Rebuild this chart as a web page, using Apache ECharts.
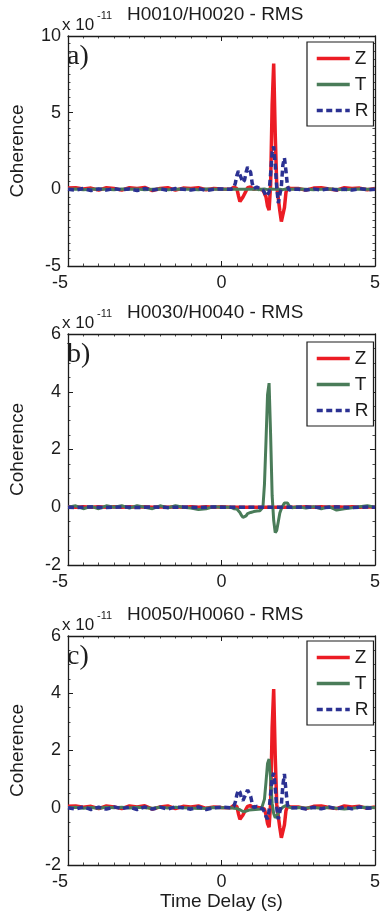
<!DOCTYPE html>
<html><head><meta charset="utf-8">
<script src="https://cdn.jsdelivr.net/npm/echarts@6/dist/echarts.min.js"></script>
<style>html,body{margin:0;padding:0;background:#fff}#c{width:383px;height:916px}</style>
</head><body><div id="c"></div>
<script>
// Time delay (s)
const time = [-5,-4.75,-4.5,-4.25,-4,-3.75,-3.5,-3.25,-3,-2.75,-2.5,-2.25,-2,-1.75,-1.5,-1.25,-1,-0.75,-0.5,-0.25,0,
 0.3,0.35,0.4,0.45,0.5,0.55,0.6,0.65,0.7,0.75,0.8,0.85,0.9,0.95,1,1.05,1.1,1.15,1.2,1.25,1.3,1.35,1.4,1.45,1.5,1.55,1.6,1.65,1.7,1.75,1.8,1.85,1.9,1.95,2,2.05,2.1,2.15,2.2,2.25,2.3,
 2.5,2.75,3,3.25,3.5,3.75,4,4.25,4.5,4.75,5];
// Coherence (x 1e-11)
const aZ = [0.08,0.1,0.02,0.08,-0.05,0.1,0.05,-0.05,0.1,0.05,0.12,-0.08,0.05,0.1,-0.05,0.08,0.05,0.1,-0.03,0.05,0.02,
 0,0.05,0.15,0.2,0.05,-0.4,-0.8,-0.75,-0.5,-0.3,-0.1,0.1,0.2,0.15,0.02,0,0.05,0.05,0.02,0,0,-0.05,-0.1,-0.5,-1.1,-1.35,0.3,5.5,8.2,3.6,0.2,-0.6,-1.4,-2.1,-2.1,-1.2,-0.2,0.1,0.02,0.05,0,
 0.05,-0.05,0.08,0.1,0.02,-0.05,0.1,0.05,0.08,-0.03,0.05];
const aT = [0,0.02,-0.02,0,0.02,0,-0.02,0.02,0,0.02,-0.02,0,0.02,-0.02,0,0.02,0,-0.02,0.02,0,0,
 0,0.02,0,-0.02,0,0.02,0,-0.02,0,0.02,0,-0.02,0,0.02,0,0,0.02,0,-0.02,0,0,0,0.02,0,-0.02,0,0.02,0,0,-0.02,0,0.02,0,0,-0.02,0,0.02,0,0,0.02,0,
 0.02,0,-0.02,0,0.02,0,-0.02,0,0.02,0,0];
const aR = [0,-0.05,0.05,-0.08,0.03,-0.05,0.05,-0.03,0.02,-0.08,0.05,-0.05,0.03,-0.06,0.05,0,-0.05,0.05,-0.08,0,0.03,
 0,0,0.1,0.4,0.9,1.2,1.1,0.7,0.45,0.6,1.1,1.45,1.5,1.1,0.4,0.05,0.1,0.15,0.15,0.05,0,-0.05,-0.2,-0.45,-0.5,-0.2,1.0,2.4,2.8,1.6,0.1,-0.9,-0.9,0.2,1.6,2.05,1.2,0.2,-0.05,0,0,
 0,-0.05,0.03,-0.05,0.05,-0.05,0.02,-0.05,0.05,-0.03,0];
const bZ = [0.02,0,0.02,0,0.02,0,0.02,0,0.02,0,0.02,0,0.02,0,0.02,0,0.02,0,0.02,0,0.02,
 0,0.02,0,0.02,0,0.02,0,0.02,0,0.02,0,0.02,0,0.02,0,0.02,0,0.02,0,0.02,0,0.02,0,0.02,0,0.02,0,0.02,0,0.02,0,0.02,0,0.02,0,0.02,0,0.02,0,0.02,0,
 0,0.02,0,0.02,0,0.02,0,0.02,0,0.02,0];
const bT = [0,0.05,-0.05,0.03,-0.05,0.05,0,0.05,-0.03,0.05,0,-0.05,0.05,-0.02,0.05,0,-0.03,-0.08,-0.05,0.02,0,
 0,-0.02,-0.05,-0.05,-0.06,-0.1,-0.18,-0.28,-0.35,-0.37,-0.3,-0.22,-0.2,-0.18,-0.17,-0.15,-0.15,-0.13,-0.13,-0.12,-0.1,0,0.8,2.3,3.9,4.3,2.5,0.4,-0.45,-0.88,-0.8,-0.5,-0.2,-0.05,0.05,0.15,0.2,0.15,0.05,0,-0.02,
 0.02,-0.03,0.02,-0.05,0.02,-0.1,-0.05,-0.02,0.02,0.05,0];
const bR = [0,-0.01,0,0.01,0,-0.01,0,0.01,0,-0.01,0,0.01,0,-0.01,0,0.01,0,-0.01,0,0.01,0,
 0,0.01,0,-0.01,0,0.01,0,-0.01,0,0.01,0,-0.01,0,0.01,0,-0.01,0,0.01,0,-0.01,0,0.01,0,-0.01,0,0.01,0,-0.01,0,0.01,0,-0.01,0,0.01,0,-0.01,0,0.01,0,-0.01,0,
 0,0.01,0,-0.01,0,0.01,0,-0.01,0,0.01,0];
const cZ = [0.05,0.06,0.02,0.05,-0.03,0.06,0.03,-0.03,0.06,0.03,0.07,-0.05,0.03,0.06,-0.03,0.05,0.03,0.06,-0.02,0.03,0.01,
 0,0.03,0.08,0.12,0.05,-0.2,-0.4,-0.38,-0.25,-0.15,-0.05,0.05,0.1,0.08,0.01,0,0.03,0.03,0.01,0,0,-0.03,-0.05,-0.25,-0.55,-0.68,0.15,2.8,4.15,1.8,0.1,-0.3,-0.7,-1.05,-1.05,-0.6,-0.1,0.05,0.01,0.03,0,
 0.03,-0.03,0.05,0.06,0.01,-0.03,0.06,0.03,0.05,-0.02,0.03];
const cT = [0,0.02,-0.02,0.01,-0.02,0.02,0,0.02,-0.01,0.02,0,-0.02,0.02,-0.01,0.02,0,-0.01,-0.03,-0.02,0.01,0,
 0,-0.01,-0.02,-0.02,-0.03,-0.04,-0.07,-0.1,-0.13,-0.14,-0.12,-0.09,-0.08,-0.07,-0.07,-0.06,-0.06,-0.05,-0.05,-0.05,-0.04,0,0.3,0.9,1.55,1.7,1.0,0.15,-0.2,-0.35,-0.32,-0.2,-0.08,-0.02,0.02,0.06,0.08,0.06,0.02,0,-0.01,
 0.01,-0.01,0.01,-0.02,0.01,-0.02,-0.04,-0.02,0.01,0.02,0];
const cR = [0,-0.05,0.03,-0.06,0.02,-0.05,0.03,-0.03,0.02,-0.06,0.03,-0.05,0.02,-0.05,0.03,0,-0.05,0.03,-0.06,0,0.02,
 0,0,0.05,0.2,0.45,0.62,0.55,0.35,0.25,0.3,0.5,0.62,0.6,0.4,0.15,0,0.05,0.05,0.05,0,0,-0.05,-0.15,-0.3,-0.4,-0.1,0.5,1.05,1.22,0.7,0,-0.4,-0.38,0.1,0.8,1.18,0.6,0.1,0,0,0,
 0,-0.04,0.02,-0.04,0.03,-0.04,0.02,-0.04,0.03,-0.02,0];

const seriesNames = ['Z','T','R'];
const xTicks = {min:-5, max:5, interval:5};
const titles = ['H0010/H0020 - RMS','H0030/H0040 - RMS','H0050/H0060 - RMS'];
const panelLabels = ['a)','b)','c)'];
const yRanges = [{min:-5,max:10,interval:5,minor:10},{min:-2,max:6,interval:2,minor:4},{min:-2,max:6,interval:2,minor:4}];
const panelData = [[aZ,aT,aR],[bZ,bT,bR],[cZ,cT,cR]];

const FONT = 'Liberation Sans, Arial, Helvetica, sans-serif';
const INK = '#1c1c1c';
const colors = ['#ec1c24','#4a7c59','#2b3192'];
const layout = [{top:36,height:230,legendTop:42},{top:334,height:231,legendTop:342},{top:636,height:229,legendTop:641}];

const axisLine = {show:true, onZero:false, lineStyle:{color:INK, width:1.3}};
const tick = {show:true, inside:true, length:5, lineStyle:{color:INK, width:1}};
const minorTickX = {show:true, splitNumber:10, length:2.5, lineStyle:{color:INK, width:0.8}};

const grid=[], xAxis=[], yAxis=[], series=[], legend=[], graphic=[];
layout.forEach((L,i)=>{
  grid.push({left:60, width:319, top:L.top, height:L.height});
  const yr = yRanges[i];
  xAxis.push({type:'value', gridIndex:i, position:'bottom', min:xTicks.min, max:xTicks.max, interval:xTicks.interval,
    axisLine, axisTick:tick, minorTick:minorTickX, splitLine:{show:false},
    axisLabel:{color:INK, fontFamily:FONT, fontSize:18, margin:8, alignMinLabel:'right'},
    name: i===2 ? 'Time Delay (s)' : '', nameLocation:'middle', nameGap:27,
    nameTextStyle:{color:INK, fontFamily:FONT, fontSize:19}});
  xAxis.push({type:'value', gridIndex:i, position:'top', min:xTicks.min, max:xTicks.max, interval:xTicks.interval,
    axisLine, axisTick:tick, minorTick:minorTickX, splitLine:{show:false}, axisLabel:{show:false}});
  const minorY = {show:true, splitNumber:yr.minor, length:2.5, lineStyle:{color:INK, width:0.8}};
  yAxis.push({type:'value', gridIndex:i, position:'left', min:yr.min, max:yr.max, interval:yr.interval,
    axisLine, axisTick:tick, minorTick:minorY, splitLine:{show:false},
    axisLabel:{color:INK, fontFamily:FONT, fontSize:18, margin:7},
    name:'Coherence', nameLocation:'middle', nameGap:41,
    nameTextStyle:{color:INK, fontFamily:FONT, fontSize:19}});
  yAxis.push({type:'value', gridIndex:i, position:'right', min:yr.min, max:yr.max, interval:yr.interval,
    axisLine, axisTick:tick, minorTick:minorY, splitLine:{show:false}, axisLabel:{show:false}});
  seriesNames.forEach((nm,k)=>{
    series.push({type:'line', name:nm, xAxisIndex:2*i, yAxisIndex:2*i, symbol:'none', showSymbol:false,
      data: time.map((t,j)=>[t, panelData[i][k][j]]),
      lineStyle:{color:colors[k], width: k===1?3:3.5, type: k===2?[6,3.5]:'solid'},
      itemStyle:{color:colors[k]}, z: 2+k});
  });
  legend.push({show:true, orient:'vertical', left:307, top:L.legendTop, data:seriesNames,
    itemWidth:33, itemHeight:14, itemGap:7, padding:[7,5,6,8],
    itemStyle:{opacity:0}, lineStyle:{width:3.5},
    borderColor:INK, borderWidth:1.2, backgroundColor:'#fff',
    textStyle:{color:INK, fontFamily:FONT, fontSize:19, lineHeight:16}, selectedMode:false});
  graphic.push({type:'text', left:62, top:L.top-19, style:{text:'x 10', fill:INK, font:'17px '+FONT}});
  graphic.push({type:'text', left:97, top:L.top-26, style:{text:'-11', fill:INK, font:'11px '+FONT}});
  graphic.push({type:'text', left:127, top:L.top-31, style:{text:titles[i], fill:INK, font:'19px '+FONT}});
  graphic.push({type:'text', left:67, top:L.top+7, style:{text:panelLabels[i], fill:INK, font:'28px Liberation Serif, Times New Roman, serif'}});
});

const chart = echarts.init(document.getElementById('c'), null, {renderer:'canvas'});
chart.setOption({animation:false, backgroundColor:'#fff', grid, xAxis, yAxis, series, legend, graphic});
</script></body></html>
